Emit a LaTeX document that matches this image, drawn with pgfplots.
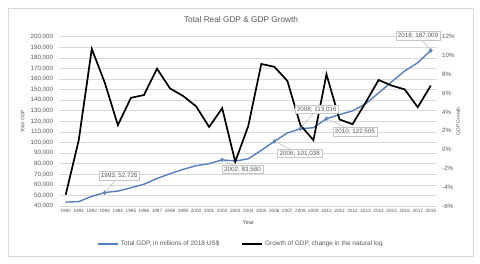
\documentclass[border=0pt]{standalone}
\usepackage{pgfplots}
\pgfplotsset{compat=1.18}
\usepackage{fontspec}
\setmainfont{Liberation Sans}
\definecolor{txt}{RGB}{89,89,89}
\definecolor{gdpblue}{RGB}{84,128,190}
\definecolor{gridc}{RGB}{217,217,217}
\begin{document}
\begin{tikzpicture}[x=1bp,y=1bp]
\useasboundingbox (0,0) rectangle (480,263);
\fill[white] (0,0) rectangle (480,263);
\draw[gridc,line width=0.6bp] (8,7) rectangle (473,255);
\node[txt,font=\fontsize{8.3}{10}\selectfont] at (241,243) {Total Real GDP \& GDP Growth};
\begin{axis}[
  at={(59.2bp,57bp)}, anchor=south west,
  width=378.1bp, height=169.3bp, scale only axis,
  clip=false,
  xmin=-0.5, xmax=28.5,
  ymin=40000, ymax=200000,
  ytick={40000,50000,...,200000},
  xtick={0,...,28},
  xticklabels={1990,1991,1992,1993,1994,1995,1996,1997,1998,1999,2000,2001,2002,2003,2004,2005,2006,2007,2008,2009,2010,2011,2012,2013,2014,2015,2016,2017,2018},
  scaled y ticks=false,
  /pgf/number format/.cd, fixed, 1000 sep={,}, assume math mode=true, /pgfplots/.cd,
  axis line style={draw=none},
  major tick length=0pt,
  ymajorgrids, grid style={gridc,line width=0.6bp},
  xticklabel style={txt,font=\fontsize{4.7}{5}\selectfont,inner sep=0pt,yshift=-3bp},
  yticklabel style={txt,font=\fontsize{6.2}{7}\selectfont,inner sep=0pt,xshift=-6bp},
  xlabel={Year},
  xlabel style={txt,font=\fontsize{5.8}{7}\selectfont,at={(axis description cs:0.5,-0.0986)},anchor=center},
  ylabel={Total GDP},
  ylabel style={txt,font=\fontsize{5}{6}\selectfont,at={(axis description cs:-0.0971,0.5)},anchor=center},
]
\addplot[gdpblue,line width=1.4bp] coordinates {
(0,43700) (1,44150) (2,49150) (3,52728) (4,54100) (5,57200) (6,60600) (7,66000) (8,70500) (9,74600)
(10,78100) (11,80000) (12,83580) (13,82500) (14,84600) (15,92600) (16,101038) (17,109000) (18,113016) (19,114000)
(20,122505) (21,126400) (22,129900) (23,136500) (24,146900) (25,157300) (26,167600) (27,175400) (28,187009)};
\addplot[only marks,mark=diamond*,mark size=2bp,gdpblue] coordinates {
(3,52728) (12,83580) (16,101038) (18,113016) (20,122505) (28,187009)};
\coordinate (p1) at (axis cs:3,52728);
\coordinate (p2) at (axis cs:12,83580);
\coordinate (p3) at (axis cs:16,101038);
\coordinate (p4) at (axis cs:18,113016);
\coordinate (p5) at (axis cs:20,122505);
\coordinate (p6) at (axis cs:28,187009);
\coordinate (b1) at (axis cs:4.1,68520);
\coordinate (b2) at (axis cs:13.56,74480);
\coordinate (b3) at (axis cs:17.95,89600);
\coordinate (b4) at (axis cs:19.25,131470);
\coordinate (b5) at (axis cs:22.18,110200);
\coordinate (b6) at (axis cs:27.02,200850);
\end{axis}
\begin{axis}[
  at={(59.2bp,57bp)}, anchor=south west,
  width=378.1bp, height=169.3bp, scale only axis,
  clip=false,
  xmin=-0.5, xmax=28.5,
  ymin=-6, ymax=12,
  ytick={-6,-4,...,12},
  axis x line=none,
  axis y line*=right,
  axis line style={draw=none},
  major tick length=0pt,
  /pgf/number format/assume math mode=true,
  yticklabel={\pgfmathprintnumber{\tick}\%},
  yticklabel style={txt,font=\fontsize{6.2}{7}\selectfont,inner sep=0pt,xshift=4.7bp},
  ylabel={GDP Growth},
  ylabel style={txt,font=\fontsize{5}{6}\selectfont,at={(axis description cs:1.0547,0.5)},anchor=center},
  legend columns=2,
  legend style={at={(0.481,-0.2245)},anchor=center,draw=none,fill=none,
    font=\fontsize{6.5}{8}\selectfont,text=txt,
    /tikz/every even column/.append style={column sep=20bp},
    inner sep=0pt},
  legend image code/.code={\draw[#1] (0bp,0bp) -- (20bp,0bp);},
]
\addlegendimage{gdpblue,line width=1.4bp}
\addlegendentry{Total GDP, in millions of 2018 US\$}
\addplot[black,line width=1.7bp] coordinates {
(0,-4.8) (1,1.0) (2,10.7) (3,7.1) (4,2.6) (5,5.5) (6,5.8) (7,8.6) (8,6.5) (9,5.7)
(10,4.6) (11,2.4) (12,4.4) (13,-1.3) (14,2.5) (15,9.1) (16,8.8) (17,7.3) (18,2.6) (19,1.0)
(20,8.0) (21,3.2) (22,2.7) (23,5.0) (24,7.4) (25,6.8) (26,6.4) (27,4.5) (28,6.8)};
\addlegendentry{Growth of GDP, change in the natural log}
\end{axis}
\foreach \i in {1,...,6}{\draw[gray!60,line width=0.4bp] (p\i) -- (b\i);}
\tikzset{lbl/.style={draw=gray!45,fill=white,line width=0.5bp,text=txt,font=\fontsize{6.3}{7}\selectfont,inner xsep=2bp,inner ysep=1.5bp}}
\node[lbl] at (b1) {1993; 52,728};
\node[lbl] at (b2) {2002; 83,580};
\node[lbl] at (b3) {2006; 101,038};
\node[lbl] at (b4) {2008; 113,016};
\node[lbl] at (b5) {2010; 122,505};
\node[lbl] at (b6) {2018; 187,009};
\end{tikzpicture}
\end{document}
